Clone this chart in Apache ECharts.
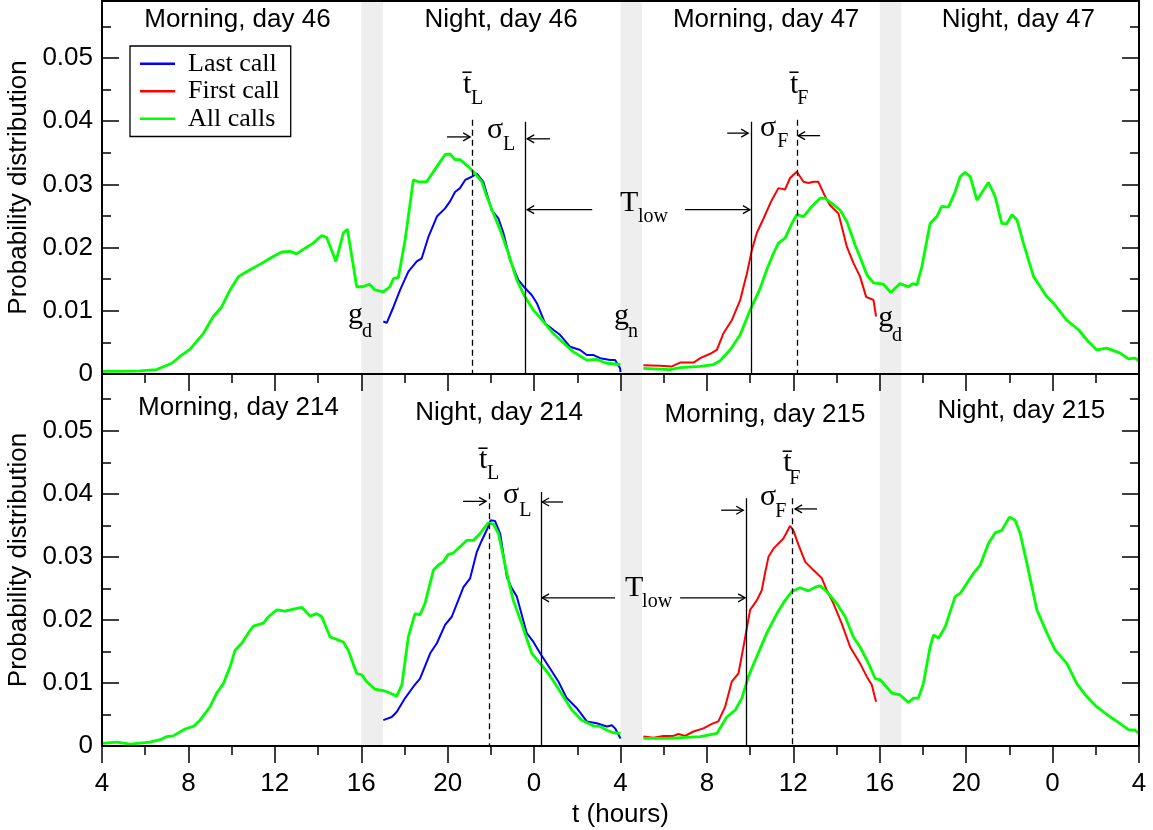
<!DOCTYPE html>
<html>
<head>
<meta charset="utf-8">
<script src="https://cdn.jsdelivr.net/npm/echarts@6.0.0/dist/echarts.min.js"></script>
<style>
  html, body { margin: 0; padding: 0; background: #fff; }
  #chart { width: 1153px; height: 830px; }
</style>
</head>
<body>
<div id="chart"></div>
<script>
// Time axis: hours elapsed since 04:00 of the first day shown (0..48).
// Values: probability distribution of call times.

// ---- Days 46/47 (upper panel) ----
const upperAllDay = [
  [0,0.0004],[0.83,0.0004],[1.76,0.0005],[2.53,0.0007],[3.23,0.0017],[3.69,0.003],[4.07,0.0039],
  [4.69,0.0064],[5.15,0.0091],[5.54,0.0106],[5.93,0.0133],[6.31,0.0154],[6.85,0.0165],[7.39,0.0175],
  [7.78,0.0183],[8.32,0.0193],[8.70,0.0194],[9.01,0.019],[9.40,0.0199],[9.78,0.0207],[10.17,0.0219],
  [10.40,0.0216],[10.83,0.0178],[11.17,0.0223],[11.36,0.0229],[11.79,0.0138],[12.07,0.0138],
  [12.38,0.0142],[12.64,0.0133],[13.02,0.013],[13.33,0.0138],[13.49,0.0151],[13.72,0.0153],
  [14.03,0.0212],[14.41,0.0307],[14.64,0.0304],[15.03,0.0304],[15.50,0.0328],[15.88,0.0347],
  [16.11,0.0348],[16.34,0.0339],[16.57,0.0339],[16.96,0.0328],[17.27,0.0317],[17.58,0.0304],
  [17.81,0.0281],[18.12,0.0254],[18.43,0.0228],[18.81,0.0191],[19.20,0.0149],[19.58,0.0122],
  [19.97,0.0101],[20.43,0.0083],[20.89,0.0064],[21.36,0.0049],[21.82,0.0035],[22.44,0.0022],
  [22.90,0.0023],[23.37,0.0017],[24.0,0.0015]
];
const upperAllNext = [
  [25.06,0.0009],[26.30,0.0007],[26.76,0.001],[27.69,0.0012],[28.30,0.0015],[28.61,0.0021],
  [29.07,0.0038],[29.54,0.0062],[30.0,0.0101],[30.46,0.0135],[30.77,0.0165],[31.08,0.0191],
  [31.31,0.0207],[31.62,0.0215],[31.93,0.0238],[32.16,0.0252],[32.47,0.0249],[32.86,0.0265],
  [33.24,0.0278],[33.47,0.0278],[33.78,0.027],[34.17,0.0259],[34.48,0.0241],[34.86,0.0204],
  [35.17,0.0178],[35.40,0.0157],[35.71,0.0144],[36.17,0.0142],[36.51,0.0129],[36.94,0.0143],
  [37.33,0.0138],[37.53,0.0143],[37.72,0.0141],[37.95,0.017],[38.33,0.0238],[38.64,0.0249],
  [38.87,0.0265],[39.18,0.0264],[39.49,0.0288],[39.72,0.0312],[39.95,0.0319],[40.19,0.0312],
  [40.50,0.0275],[41.03,0.0303],[41.34,0.0281],[41.65,0.0238],[41.88,0.0238],[42.12,0.0252],
  [42.35,0.0244],[42.65,0.0207],[43.12,0.0154],[43.43,0.0138],[43.74,0.0122],[44.04,0.0112],
  [44.66,0.0085],[45.20,0.007],[45.66,0.0051],[46.05,0.0038],[46.51,0.0041],[47.13,0.0033],
  [47.51,0.0024],[47.82,0.0025],[48.0,0.0021]
];
const upperLast = [
  [13.02,0.0083],[13.18,0.0081],[13.49,0.0106],[13.80,0.0133],[14.18,0.0162],[14.57,0.0178],
  [14.80,0.0183],[15.11,0.0217],[15.50,0.0249],[15.88,0.0262],[16.11,0.0273],[16.34,0.0288],
  [16.57,0.0294],[16.81,0.0307],[17.12,0.0312],[17.35,0.0317],[17.65,0.0304],[18.04,0.0259],
  [18.35,0.0246],[18.58,0.0223],[18.89,0.018],[19.27,0.0149],[19.58,0.0136],[19.89,0.0125],
  [20.13,0.0112],[20.51,0.008],[20.89,0.007],[21.20,0.0062],[21.67,0.0043],[22.13,0.0038],
  [22.44,0.003],[22.75,0.003],[23.06,0.0025],[23.52,0.0022],[23.75,0.0022],[23.98,0.0009],[24.0,0.0003]
];
const upperFirst = [
  [25.06,0.0014],[25.83,0.0013],[26.38,0.0012],[26.76,0.0018],[27.38,0.0018],[27.69,0.0025],
  [28.15,0.0032],[28.46,0.0038],[28.76,0.0064],[29.15,0.0085],[29.54,0.0117],[29.85,0.0159],
  [30.08,0.0196],[30.31,0.0223],[30.62,0.0246],[31.0,0.0275],[31.31,0.0294],[31.62,0.0292],
  [31.85,0.031],[32.16,0.032],[32.47,0.0304],[32.70,0.0302],[32.93,0.0304],[33.16,0.0304],
  [33.47,0.0281],[33.70,0.0267],[34.09,0.0254],[34.48,0.0201],[34.79,0.0175],[35.09,0.0154],
  [35.37,0.0122],[35.71,0.0117],[35.83,0.0091]
];

// ---- Days 214/215 (lower panel) ----
const lowerAllDay = [
  [0,0.0004],[0.68,0.0006],[1.30,0.0003],[2.22,0.0006],[2.69,0.001],[3.0,0.0015],[3.30,0.0016],
  [3.84,0.0027],[4.23,0.0031],[4.54,0.0041],[5.0,0.0062],[5.31,0.0084],[5.62,0.0099],[5.93,0.0126],
  [6.16,0.0152],[6.47,0.0163],[6.77,0.0179],[7.0,0.019],[7.47,0.0195],[7.70,0.0205],[8.09,0.0216],
  [8.47,0.0214],[8.86,0.0217],[9.25,0.022],[9.63,0.0206],[9.94,0.021],[10.17,0.0205],[10.56,0.0173],
  [10.71,0.0171],[11.17,0.0165],[11.40,0.0152],[11.79,0.0115],[12.02,0.0113],[12.25,0.0102],
  [12.64,0.009],[13.02,0.0088],[13.33,0.0084],[13.64,0.0079],[13.88,0.0097],[14.18,0.0173],
  [14.49,0.021],[14.72,0.0208],[14.95,0.0226],[15.34,0.0279],[15.57,0.0287],[15.80,0.0292],
  [16.03,0.0304],[16.26,0.0306],[16.57,0.0316],[16.88,0.0326],[17.19,0.0326],[17.5,0.0337],
  [17.88,0.0354],[18.12,0.0352],[18.35,0.0337],[18.58,0.03],[18.81,0.0263],[19.04,0.0231],
  [19.43,0.0194],[19.89,0.0147],[20.28,0.0131],[20.66,0.0115],[20.97,0.0099],[21.36,0.0078],
  [21.75,0.0057],[22.21,0.0041],[22.75,0.0032],[23.06,0.0031],[23.37,0.0025],[23.67,0.0021],[24.0,0.002]
];
const lowerAllNext = [
  [25.06,0.0012],[26.14,0.0012],[27.69,0.0015],[28.46,0.002],[28.92,0.0046],[29.31,0.0057],
  [29.62,0.0076],[29.92,0.011],[30.31,0.0142],[30.77,0.0179],[31.24,0.021],[31.62,0.0231],
  [31.93,0.0245],[32.31,0.0251],[32.70,0.0246],[33.01,0.0252],[33.24,0.0254],[33.55,0.0245],
  [34.01,0.0226],[34.40,0.0205],[34.78,0.0173],[35.09,0.0157],[35.48,0.0131],[35.79,0.0107],
  [36.02,0.0105],[36.56,0.0084],[36.94,0.0081],[37.33,0.0069],[37.56,0.0076],[37.79,0.0076],
  [38.02,0.0099],[38.33,0.0157],[38.49,0.0176],[38.72,0.0171],[39.03,0.0189],[39.49,0.0237],
  [39.72,0.0242],[40.03,0.0258],[40.34,0.0274],[40.65,0.0287],[41.03,0.0321],[41.34,0.0338],
  [41.65,0.0342],[42.0,0.0363],[42.27,0.0358],[42.5,0.0337],[42.81,0.029],[43.27,0.0216],
  [43.74,0.0179],[44.12,0.0152],[44.66,0.0131],[45.12,0.0099],[45.59,0.0078],[46.05,0.0062],
  [46.67,0.0046],[46.98,0.0039],[47.51,0.0026],[47.82,0.0025],[48.0,0.002]
];
const lowerLast = [
  [13.02,0.0041],[13.41,0.0046],[13.64,0.0054],[14.03,0.0076],[14.41,0.0094],[14.72,0.0107],
  [15.19,0.0147],[15.50,0.0163],[15.88,0.0192],[16.19,0.0205],[16.73,0.0252],[17.04,0.0266],
  [17.35,0.0308],[17.58,0.0326],[17.84,0.0345],[17.99,0.0358],[18.19,0.0357],[18.43,0.0337],
  [18.74,0.0268],[18.97,0.025],[19.20,0.0237],[19.66,0.0179],[19.97,0.0165],[20.28,0.0147],
  [20.74,0.0123],[21.13,0.0102],[21.51,0.0076],[21.98,0.006],[22.44,0.0039],[22.90,0.0036],
  [23.37,0.0031],[23.60,0.0033],[23.75,0.0028],[24.0,0.0012]
];
const lowerFirst = [
  [25.06,0.0015],[25.52,0.0013],[25.99,0.0016],[26.45,0.0016],[26.68,0.0019],[26.99,0.0016],
  [27.38,0.0023],[27.84,0.0028],[28.23,0.0035],[28.53,0.0039],[28.84,0.0062],[29.15,0.0102],
  [29.46,0.0115],[29.69,0.0157],[30.0,0.0216],[30.31,0.0231],[30.54,0.0247],[30.69,0.0274],
  [30.85,0.03],[31.08,0.0313],[31.54,0.0329],[31.85,0.0349],[32.0,0.0342],[32.24,0.0319],
  [32.55,0.0292],[32.93,0.0279],[33.32,0.0266],[33.55,0.0247],[33.86,0.0226],[34.24,0.0194],
  [34.63,0.0157],[35.09,0.0131],[35.40,0.011],[35.63,0.0097],[35.83,0.007]
];

// Shaded gaps between the recorded windows (hours since 04:00)
const gapBands = [[12, 13], [24, 25], [36, 37]];

// Mean call times and the sigma / T_low markers: [hours, height where the marker starts]
const upperMarkers = { meanLast: [17.16, 0.0402], sigmaLast: [19.58, 0.0399], sigmaFirst: [30.05, 0.0399], meanFirst: [32.16, 0.0402] };
const lowerMarkers = { meanLast: [17.92, 0.0401], sigmaLast: [20.31, 0.0403], sigmaFirst: [29.81, 0.0393], meanFirst: [31.96, 0.0393] };

const periodTitles = [
  ['Morning, day 46', 6.27, 0.0561, 0], ['Night, day 46', 18.47, 0.0561, 0],
  ['Morning, day 47', 30.74, 0.0561, 0], ['Night, day 47', 42.41, 0.0561, 0],
  ['Morning, day 214', 6.32, 0.0537, 1], ['Night, day 214', 18.38, 0.0528, 1],
  ['Morning, day 215', 30.69, 0.0525, 1], ['Night, day 215', 42.55, 0.0531, 1]
];

const C_ALL = '#00ff00', C_LAST = '#0000ff', C_FIRST = '#ff0000';
const SANS = '"Liberation Sans", Arial, sans-serif';
const SERIF = '"Liberation Serif", "Times New Roman", serif';

const chart = echarts.init(document.getElementById('chart'), null, { renderer: 'canvas' });

const Y_MAX = 0.059;
const hourLabel = v => String((v + 4) % 24);

function xBottom(gridIndex, withLabels) {
  return {
    type: 'value', gridIndex, position: 'bottom', min: 0, max: 48, interval: 4,
    axisLine: { show: true, onZero: false, lineStyle: { color: '#000', width: 2 } },
    axisTick: { show: true, inside: false, length: 17, lineStyle: { color: '#000', width: 1.5 } },
    minorTick: { show: true, splitNumber: 2, length: 9, lineStyle: { color: '#000', width: 1.5 } },
    splitLine: { show: false }, minorSplitLine: { show: false },
    axisLabel: { show: withLabels, formatter: hourLabel, color: '#000', fontFamily: SANS, fontSize: 26, margin: 25 },
    name: withLabels ? 't (hours)' : '', nameLocation: 'middle', nameGap: 56,
    nameTextStyle: { color: '#000', fontFamily: SANS, fontSize: 26 },
    z: 5
  };
}
function xTop(gridIndex) {
  return {
    type: 'value', gridIndex, position: 'top', min: 0, max: 48, interval: 4,
    axisLine: { show: true, onZero: false, lineStyle: { color: '#000', width: 2 } },
    axisTick: { show: false }, axisLabel: { show: false }, splitLine: { show: false }, z: 5
  };
}
function yAxis(gridIndex, position, major) {
  const left = position === 'left';
  return {
    type: 'value', gridIndex, position, min: 0, max: Y_MAX, interval: major ? 0.01 : 0.005,
    axisLine: { show: major, onZero: false, lineStyle: { color: '#000', width: 2 } },
    axisTick: { show: true, inside: true, length: major ? 17 : 9, lineStyle: { color: '#000', width: 1.5 } },
    splitLine: { show: false },
    axisLabel: {
      show: major && left, showMaxLabel: false, margin: 9, color: '#000', fontFamily: SANS, fontSize: 26,
      formatter: v => (Math.abs(v) < 1e-9 ? '0' : v.toFixed(2))
    },
    name: major && left ? 'Probability distribution' : '', nameLocation: 'middle', nameGap: 70,
    nameTextStyle: { color: '#000', fontFamily: SANS, fontSize: 26 },
    z: 5
  };
}

function curve(name, data, color, width, xi, yi) {
  return {
    type: 'line', name, data, xAxisIndex: xi, yAxisIndex: yi,
    showSymbol: false, symbol: 'none', smooth: false, z: 3,
    lineStyle: { color, width }, itemStyle: { color },
    emphasis: { disabled: true }, silent: true
  };
}
function bands(xi, yi) {
  return {
    type: 'line', data: [], xAxisIndex: xi, yAxisIndex: yi, z: 1, silent: true,
    markArea: {
      silent: true, itemStyle: { color: '#eeeeee' }, label: { show: false },
      data: gapBands.map(b => [{ xAxis: b[0] }, { xAxis: b[1] }])
    }
  };
}
function markers(m, xi, yi) {
  const seg = (p, dashed) => [
    { coord: [p[0], p[1]], lineStyle: { color: '#000', width: 1.3, type: dashed ? [6, 4] : 'solid' } },
    { coord: [p[0], 0] }
  ];
  return {
    type: 'line', data: [], xAxisIndex: xi, yAxisIndex: yi, z: 4, silent: true,
    markLine: {
      silent: true, symbol: 'none', label: { show: false }, animation: false,
      data: [seg(m.meanLast, true), seg(m.sigmaLast, false), seg(m.sigmaFirst, false), seg(m.meanFirst, true)]
    }
  };
}

const series = [
  bands(0, 0), bands(2, 4),
  curve('Last call', upperLast, C_LAST, 2, 0, 0),
  curve('First call', upperFirst, C_FIRST, 2, 0, 0),
  curve('All calls', upperAllDay, C_ALL, 2.8, 0, 0),
  curve('All calls', upperAllNext, C_ALL, 2.8, 0, 0),
  curve('Last call', lowerLast, C_LAST, 2, 2, 4),
  curve('First call', lowerFirst, C_FIRST, 2, 2, 4),
  curve('All calls', lowerAllDay, C_ALL, 2.8, 2, 4),
  curve('All calls', lowerAllNext, C_ALL, 2.8, 2, 4),
  markers(upperMarkers, 0, 0), markers(lowerMarkers, 2, 4)
];
const panelSeries = [4, 8]; // a series living in each panel, used for coordinate conversion

chart.setOption({
  animation: false,
  backgroundColor: '#fff',
  grid: [
    { left: 102, right: 14, top: 1, height: 373, outerBoundsMode: 'none', containLabel: false },
    { left: 102, right: 14, top: 374, height: 372, outerBoundsMode: 'none', containLabel: false }
  ],
  xAxis: [xBottom(0, false), xTop(0), xBottom(1, true), xTop(1)],
  yAxis: [
    yAxis(0, 'left', true), yAxis(0, 'left', false), yAxis(0, 'right', true), yAxis(0, 'right', false),
    yAxis(1, 'left', true), yAxis(1, 'left', false), yAxis(1, 'right', true), yAxis(1, 'right', false)
  ],
  legend: {
    data: ['Last call', 'First call', 'All calls'],
    orient: 'vertical', left: 130, top: 46,
    icon: 'rect',
    padding: [4, 11, 4, 10], itemGap: 0, itemWidth: 35, itemHeight: 2.4,
    borderColor: '#000', borderWidth: 1.3, borderRadius: 0, backgroundColor: '#fff',
    selectedMode: false,
    textStyle: { color: '#000', fontFamily: SERIF, fontSize: 26, lineHeight: 27.5, padding: [0, 0, 0, 8] }
  },
  series
});

// ---- Annotations, anchored in data coordinates of each panel ----
const toPx = (panel, t, v) => chart.convertToPixel({ seriesIndex: panelSeries[panel] }, [t, v]);

// [panel, hours, value, text, size]
const symbolLabels = [
  [0, 16.71, 0.0457, 't\u0304', 30], [0, 17.08, 0.0436, 'L', 20],
  [0, 17.82, 0.0386, '\u03c3', 30], [0, 18.56, 0.0362, 'L', 20],
  [0, 23.98, 0.0271, 'T', 30], [0, 24.81, 0.0249, 'low', 20],
  [0, 30.46, 0.0389, '\u03c3', 30], [0, 31.25, 0.0368, 'F', 20],
  [0, 31.85, 0.0457, 't\u0304', 30], [0, 32.18, 0.0436, 'F', 20],
  [0, 11.39, 0.0093, 'g', 30], [0, 12.04, 0.0067, 'd', 20],
  [0, 23.70, 0.0092, 'g', 30], [0, 24.35, 0.0067, 'n', 20],
  [0, 35.93, 0.0089, 'g', 30], [0, 36.57, 0.0061, 'd', 20],
  [1, 17.45, 0.0453, 't\u0304', 30], [1, 17.82, 0.0432, 'L', 20],
  [1, 18.56, 0.0398, '\u03c3', 30], [1, 19.31, 0.0373, 'L', 20],
  [1, 24.21, 0.0250, 'T', 30], [1, 25.00, 0.0229, 'low', 20],
  [1, 30.46, 0.0395, '\u03c3', 30], [1, 31.16, 0.0372, 'F', 20],
  [1, 31.53, 0.0448, 't\u0304', 30], [1, 31.81, 0.0424, 'F', 20]
];
// [panel, fromHours, toHours, value]
const arrows = [
  [0, 15.97, 17.04, 0.0375], [0, 20.74, 19.68, 0.0372], [0, 22.69, 19.68, 0.026], [0, 26.99, 29.99, 0.026],
  [0, 28.94, 29.91, 0.0381], [0, 33.24, 32.22, 0.0377],
  [1, 16.71, 17.78, 0.0388], [1, 21.34, 20.37, 0.0387], [1, 23.75, 20.37, 0.0235], [1, 26.76, 29.77, 0.0235],
  [1, 28.66, 29.68, 0.0374], [1, 33.10, 32.08, 0.0376]
];

const graphics = [];
periodTitles.forEach(([text, t, v, panel]) => {
  const [x, y] = toPx(panel, t, v);
  graphics.push({ type: 'text', x, y, z: 10, silent: true,
    style: { text, fill: '#000', font: '26px ' + SANS, align: 'center', verticalAlign: 'middle' } });
});
symbolLabels.forEach(([panel, t, v, text, size]) => {
  const [x, y] = toPx(panel, t, v);
  graphics.push({ type: 'text', x, y, z: 10, silent: true,
    style: { text, fill: '#000', font: size + 'px ' + SERIF, align: 'left', verticalAlign: 'middle' } });
});
arrows.forEach(([panel, t0, t1, v]) => {
  const p0 = toPx(panel, t0, v), p1 = toPx(panel, t1, v);
  const dir = Math.sign(p1[0] - p0[0]);
  graphics.push({ type: 'line', z: 10, silent: true,
    shape: { x1: p0[0], y1: p0[1], x2: p1[0], y2: p1[1] }, style: { stroke: '#000', lineWidth: 1.3 } });
  graphics.push({ type: 'polyline', z: 10, silent: true,
    shape: { points: [[p1[0] - dir * 7, p1[1] - 4], [p1[0], p1[1]], [p1[0] - dir * 7, p1[1] + 4]] },
    style: { stroke: '#000', lineWidth: 1.3, fill: null } });
});
chart.setOption({ graphic: graphics });
</script>
</body>
</html>
